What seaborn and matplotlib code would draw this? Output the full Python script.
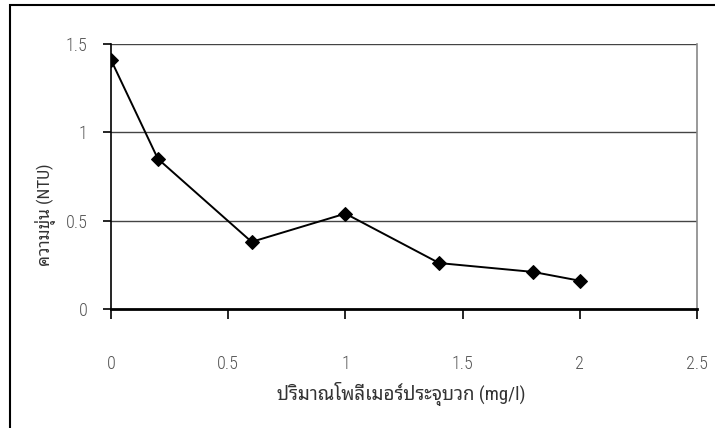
import matplotlib
matplotlib.use("Agg")
import matplotlib.pyplot as plt
import matplotlib.patches as mpatches
import seaborn as sns
import pandas as pd

# Polymer dose (mg/l) and resulting turbidity (NTU)
dose = [0, 0.2, 0.6, 1.0, 1.4, 1.8, 2.0]
turbidity = [1.41, 0.85, 0.38, 0.54, 0.26, 0.21, 0.16]
x_ticks = [0, 0.5, 1, 1.5, 2, 2.5]
y_ticks = [0, 0.5, 1, 1.5]
x_label = "ปริมาณโพลีเมอร์ประจุบวก (mg/l)"
y_label = "ความขุ่น (NTU)"

sns.set_style("white")
plt.rcParams["font.family"] = ["Roboto Condensed", "Noto Sans Thai Looped", "DejaVu Sans"]

df = pd.DataFrame({"dose": dose, "turbidity": turbidity})

W, H = 715, 428
fig = plt.figure(figsize=(W / 100, H / 100), dpi=100)
ax = fig.add_axes([111 / W, 1 - 309 / H, 586 / W, 265 / H])

sns.lineplot(data=df, x="dose", y="turbidity", ax=ax, color="black",
             linewidth=1.4, marker="D", markersize=7, markeredgecolor="black",
             markerfacecolor="black", zorder=3)

ax.set_xlim(0, 2.5)
ax.set_ylim(0, 1.5)
ax.set_xticks(x_ticks)
ax.set_yticks(y_ticks)
ax.set_xticklabels([f"{t:g}" for t in x_ticks])
ax.set_yticklabels([f"{t:g}" for t in y_ticks])

# horizontal gridlines
for y in y_ticks[1:]:
    ax.axhline(y, color="#444444", linewidth=1.0, zorder=0.5)

ax.spines["left"].set_color("black")
ax.spines["left"].set_linewidth(1.2)
ax.spines["bottom"].set_color("black")
ax.spines["bottom"].set_linewidth(2.0)
ax.spines["top"].set_visible(False)
ax.spines["right"].set_color("#888888")
ax.spines["right"].set_linewidth(1.2)

ax.tick_params(axis="x", direction="out", length=7.2, width=1.2, color="black",
               pad=26, labelsize=13, labelcolor="#555555", bottom=True)
ax.tick_params(axis="y", direction="out", length=5.8, width=1.2, color="black",
               pad=11, labelsize=13, labelcolor="#555555", left=True)
for lbl in ax.get_xticklabels() + ax.get_yticklabels():
    lbl.set_fontweight("light")

ax.set_xlabel(x_label, fontsize=13.5, color="#333333")
ax.xaxis.set_label_coords((401 - 111) / 586, (309 - 394) / 265)
ax.xaxis.label.set_verticalalignment("center")

ax.set_ylabel(y_label, fontsize=12.5, color="#333333")
ax.yaxis.set_label_coords((45 - 111) / 586, (309 - 215) / 265)
ax.yaxis.label.set_verticalalignment("center")

# outer chart frame
frame = mpatches.Rectangle((10 / W, -0.05), 1.0, 1 - 5 / H + 0.05,
                           transform=fig.transFigure, fill=False,
                           edgecolor="black", linewidth=1.5)
fig.patches.append(frame)

fig.savefig("out.png", dpi=100)
